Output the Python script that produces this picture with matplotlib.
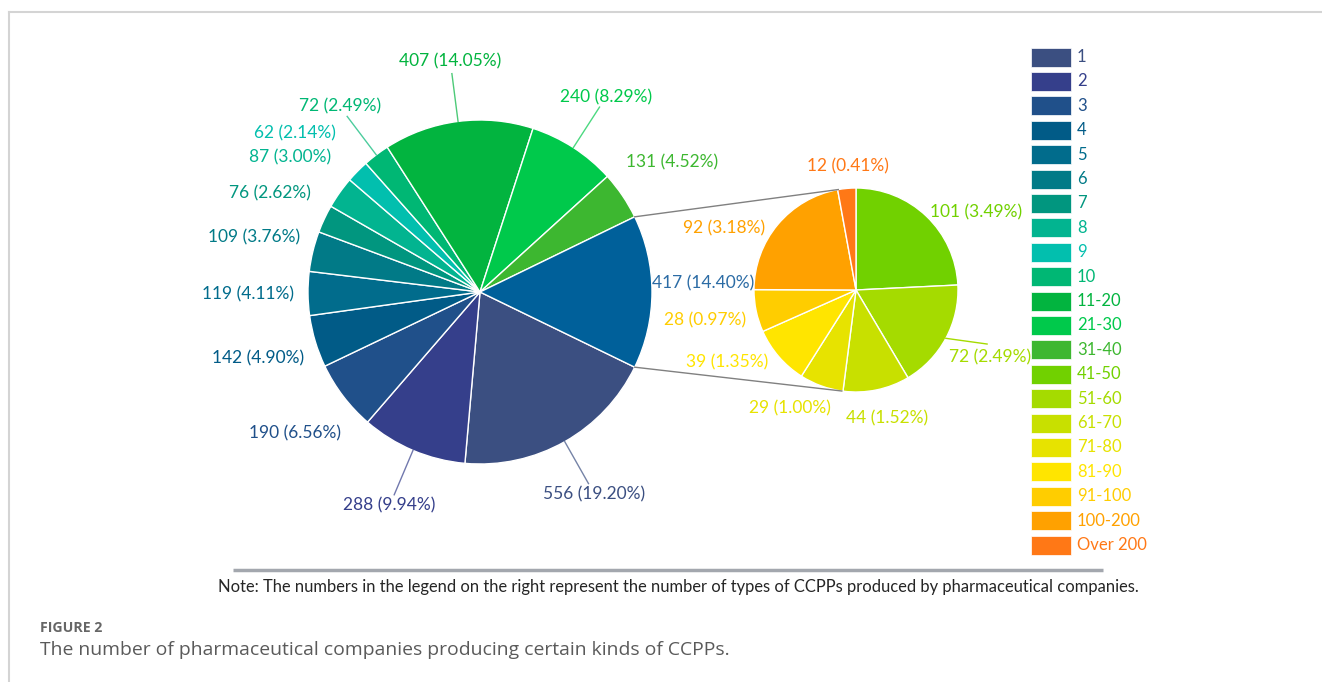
import numpy as np
import matplotlib
matplotlib.use("Agg")
import matplotlib.pyplot as plt
from matplotlib.patches import Rectangle

# data
main_cats = ["1", "2", "3", "4", "5", "6", "7", "8", "9", "10", "11-20", "21-30", "31-40"]
main_vals = [556, 288, 190, 142, 119, 109, 76, 87, 62, 72, 407, 240, 131]
main_colors = ["#3B4F81", "#353F8B", "#20508A", "#015B87", "#016C8C", "#017A87", "#01967F",
               "#02B490", "#02BFAE", "#00B774", "#02B43F", "#00C94B", "#3DB730"]
sec_cats = ["41-50", "51-60", "61-70", "71-80", "81-90", "91-100", "100-200", "Over 200"]
sec_vals = [101, 72, 44, 29, 39, 28, 92, 12]
sec_colors = ["#71D100", "#A5DB00", "#C8E000", "#E7E300", "#FFE500", "#FFCD00", "#FFA100", "#FF7816"]
other_color = "#00609A"
other_label_color = "#2C6CA5"

note = "Note: The numbers in the legend on the right represent the number of types of CCPPs produced by pharmaceutical companies."
fig_title = "FIGURE 2"
caption = "The number of pharmaceutical companies producing certain kinds of CCPPs."

# layout (pixel units, y up)
W, H = 1322, 682
c1, r1 = (480, H - 292), 172
c2, r2 = (856, H - 290), 102
main_leaders = [0, 1, 9, 10, 11]
main_tweak = {8: (4.0, 1.42)}   # index: (angle shift, radius factor)
sec_lab_ang = [33, -26.6, -76.4, -119, -150.8, -168.8, 154.8, 93.7]
sec_lab_r = [1.40, 1.47, 1.29, 1.33, 1.45, 1.51, 1.43, 1.21]
FONT = "Lato"
FS = 12.5

other = sum(sec_vals)
total = sum(main_vals) + other


def lab(v):
    return f"{v} ({v / total * 100:.2f}%)"


def pol(c, r, ang):
    a = np.deg2rad(ang)
    return c[0] + r * np.cos(a), c[1] + r * np.sin(a)


fig = plt.figure(figsize=(W / 100, H / 100), dpi=100)
ax = fig.add_axes([0, 0, 1, 1])

vals1 = main_vals + [other]
cols1 = main_colors + [other_color]
half = 180 * other / total
wedges1, _ = ax.pie(vals1, colors=cols1, startangle=-half, counterclock=False,
                    center=c1, radius=r1,
                    wedgeprops=dict(edgecolor="white", linewidth=1))
wedges2, _ = ax.pie(sec_vals, colors=sec_colors, startangle=90, counterclock=False,
                    center=c2, radius=r2,
                    wedgeprops=dict(edgecolor="white", linewidth=1))

# main labels
for i, w in enumerate(wedges1):
    mid = (w.theta1 + w.theta2) / 2
    if i == len(main_vals):
        x, y = pol(c1, r1 * 1.30, mid + 2.3)
        ax.text(x, y, lab(vals1[i]), color=other_label_color, fontsize=FS, family=FONT,
                ha="center", va="center")
        continue
    da, rf = main_tweak.get(i, (0.0, 1.35))
    x, y = pol(c1, r1 * rf, mid + da)
    ax.text(x, y, lab(vals1[i]), color=cols1[i], fontsize=FS, family=FONT,
            ha="center", va="center")
    if i in main_leaders:
        x0, y0 = pol(c1, r1, mid)
        x1, y1 = pol(c1, r1 * 1.28, mid)
        ax.plot([x0, x1], [y0, y1], color=cols1[i], lw=1, alpha=0.7)

# secondary labels
for i, w in enumerate(wedges2):
    x, y = pol(c2, r2 * sec_lab_r[i], sec_lab_ang[i])
    ax.text(x, y, lab(sec_vals[i]), color=sec_colors[i], fontsize=FS, family=FONT,
            ha="center", va="center")
    if i == 1:
        mid = (w.theta1 + w.theta2) / 2
        x0, y0 = pol(c2, r2, mid)
        x1, y1 = pol(c2, r2 * 1.39, -22.4)
        ax.plot([x0, x1], [y0, y1], color=sec_colors[i], lw=1)

# connector lines
for a1, a2 in [(half, 100), (-half, -98)]:
    x0, y0 = pol(c1, r1, a1)
    x1, y1 = pol(c2, r2, a2)
    ax.plot([x0, x1], [y0, y1], color="#808080", lw=1)

# legend
leg_cats = main_cats + sec_cats
leg_cols = main_colors + sec_colors
for k, (cat, col) in enumerate(zip(leg_cats, leg_cols)):
    yc = H - (57 + k * 24.4)
    ax.add_patch(Rectangle((1031, yc - 9.5), 40, 19, facecolor=col, edgecolor="white", lw=0.5))
    ax.text(1077, yc, cat, color=col, fontsize=12, family=FONT, ha="left", va="center")

# rule + note + caption
ax.plot([233, 1103], [H - 570, H - 570], color="#A3A7AE", lw=2.5, solid_capstyle="butt")
t_note = ax.text(678, H - 587, note, color="#262626", fontsize=11, family=FONT,
                 ha="center", va="center")
t_fig = ax.text(40, H - 628, fig_title, color="#666666", fontsize=9.5, family="Open Sans",
                weight="bold", ha="left", va="center")
t_cap = ax.text(40, H - 650, caption, color="#5A5A5A", fontsize=12.5, family="Open Sans",
                ha="left", va="center")

# frame lines
ax.plot([9, W], [H - 12, H - 12], color="#D4D4D4", lw=1.5)
ax.plot([9, 9], [H - 12, 0], color="#D4D4D4", lw=1.5)

ax.set_xlim(0, W)
ax.set_ylim(0, H)
ax.set_aspect("auto")
ax.axis("off")

# fit widths of long texts
fig.canvas.draw()
rend = fig.canvas.get_renderer()
for t, target in [(t_note, 920), (t_cap, 693), (t_fig, 63)]:
    wpx = t.get_window_extent(rend).width
    t.set_fontsize(t.get_fontsize() * target / wpx)

fig.savefig("out.png", dpi=100, facecolor="white")
